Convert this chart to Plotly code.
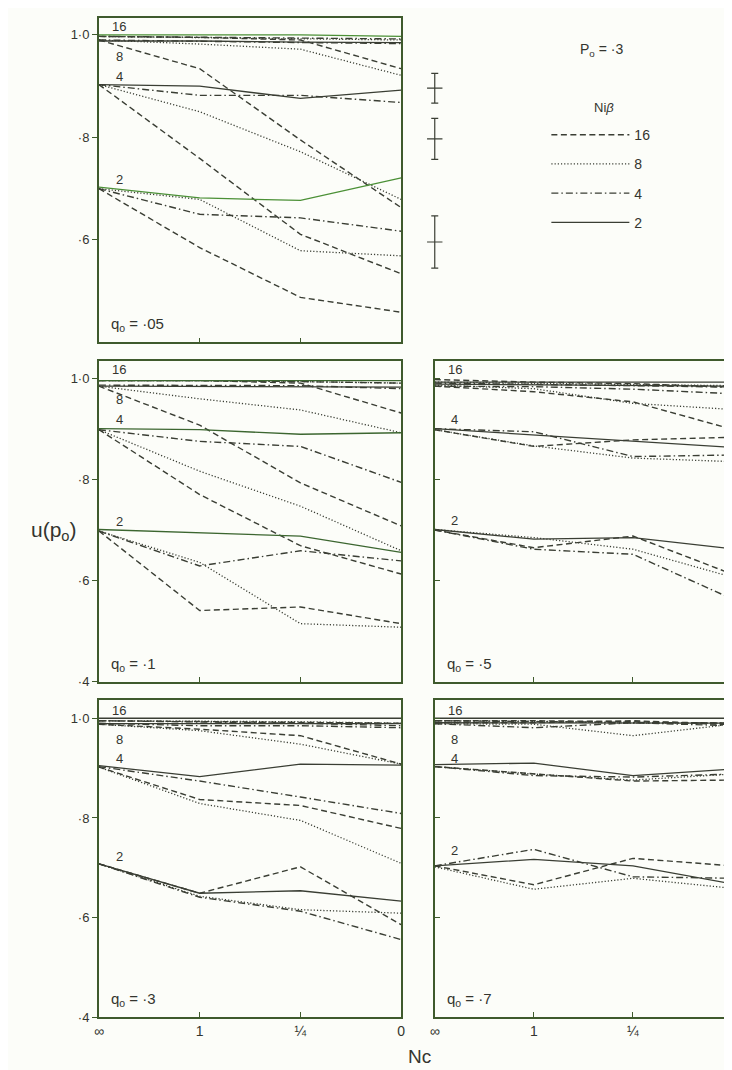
import plotly.graph_objects as go

# ---------------- data ----------------
nc_labels = ["∞", "1", "¼", "0"]          # Nc categories
nc_pos = [0, 1, 2, 3]
group_labels = ["16", "8", "4", "2"]      # curve-group labels written in each panel
style_names = ["16", "8", "4", "2"]       # Niβ legend (line styles)

# each list: values for groups 16, 8, 4, 2 at Nc = ∞, 1, 1/4, 0
# panel q0 = .05
q05_dash = [[0.997, 0.995, 0.990, 0.934], [0.990, 0.934, 0.795, 0.663],
            [0.903, 0.759, 0.611, 0.534], [0.700, 0.585, 0.488, 0.459]]
q05_dot = [[0.997, 0.995, 0.993, 0.990], [0.990, 0.982, 0.972, 0.921],
           [0.903, 0.850, 0.772, 0.679], [0.700, 0.679, 0.579, 0.569]]
q05_dashdot = [[0.997, 0.995, 0.993, 0.992], [0.990, 0.987, 0.985, 0.983],
               [0.903, 0.882, 0.882, 0.868], [0.700, 0.650, 0.643, 0.617]]
q05_solid = [[1.000, 1.000, 1.000, 0.997], [0.988, 0.988, 0.986, 0.985],
             [0.903, 0.900, 0.876, 0.892], [0.703, 0.682, 0.677, 0.721]]

# panel q0 = .1
q1_dash = [[0.995, 0.995, 0.990, 0.931], [0.984, 0.907, 0.793, 0.708],
           [0.898, 0.770, 0.669, 0.613], [0.698, 0.541, 0.548, 0.515]]
q1_dot = [[0.995, 0.995, 0.993, 0.990], [0.984, 0.959, 0.937, 0.892],
          [0.898, 0.816, 0.747, 0.659], [0.698, 0.636, 0.515, 0.508]]
q1_dashdot = [[0.995, 0.995, 0.993, 0.990], [0.986, 0.986, 0.985, 0.979],
              [0.898, 0.875, 0.865, 0.794], [0.698, 0.629, 0.659, 0.639]]
q1_solid = [[0.995, 0.995, 0.995, 0.995], [0.984, 0.983, 0.982, 0.982],
            [0.900, 0.898, 0.889, 0.892], [0.701, 0.695, 0.688, 0.656]]

# panel q0 = .5
q5_dash = [[0.997, 0.992, 0.989, 0.982], [0.984, 0.973, 0.953, 0.899],
           [0.898, 0.865, 0.878, 0.883], [0.700, 0.665, 0.688, 0.613]]
q5_dot = [[0.992, 0.990, 0.988, 0.985], [0.986, 0.979, 0.950, 0.938],
          [0.898, 0.866, 0.842, 0.835], [0.701, 0.685, 0.662, 0.607]]
q5_dashdot = [[0.990, 0.988, 0.985, 0.982], [0.984, 0.983, 0.978, 0.969],
              [0.900, 0.894, 0.845, 0.848], [0.700, 0.662, 0.652, 0.564]]
q5_solid = [[0.992, 0.992, 0.992, 0.992], [0.988, 0.987, 0.985, 0.984],
            [0.900, 0.888, 0.875, 0.863], [0.701, 0.682, 0.685, 0.663]]

# panel q0 = .3
q3_dash = [[0.995, 0.993, 0.992, 0.990], [0.988, 0.978, 0.965, 0.908],
           [0.902, 0.837, 0.825, 0.779], [0.708, 0.649, 0.702, 0.586]]
q3_dot = [[0.995, 0.994, 0.993, 0.990], [0.988, 0.975, 0.948, 0.908],
          [0.902, 0.829, 0.795, 0.709], [0.708, 0.643, 0.616, 0.609]]
q3_dashdot = [[0.995, 0.993, 0.990, 0.985], [0.990, 0.985, 0.985, 0.981],
              [0.903, 0.874, 0.842, 0.809], [0.708, 0.641, 0.613, 0.556]]
q3_solid = [[1.000, 1.000, 1.000, 1.000], [0.989, 0.989, 0.989, 0.989],
            [0.905, 0.883, 0.908, 0.906], [0.708, 0.649, 0.654, 0.633]]

# panel q0 = .7
q7_dash = [[0.995, 0.995, 0.993, 0.990], [0.991, 0.991, 0.995, 0.987],
           [0.903, 0.888, 0.874, 0.876], [0.704, 0.666, 0.719, 0.704]]
q7_dot = [[0.995, 0.994, 0.990, 0.990], [0.989, 0.988, 0.965, 0.988],
          [0.903, 0.888, 0.876, 0.888], [0.702, 0.657, 0.679, 0.659]]
q7_dashdot = [[0.995, 0.993, 0.992, 0.990], [0.989, 0.981, 0.991, 0.985],
              [0.903, 0.885, 0.882, 0.888], [0.704, 0.737, 0.682, 0.679]]
q7_solid = [[1.000, 1.000, 1.000, 1.000], [0.991, 0.991, 0.990, 0.990],
            [0.907, 0.910, 0.885, 0.898], [0.704, 0.717, 0.704, 0.668]]

# error bars beside the top panel
err_mid = [0.896, 0.797, 0.596]
err_half = [0.029, 0.040, 0.051]

y_ticks = [0.4, 0.6, 0.8, 1.0]
y_ticktext = ["·4", "·6", "·8", "1·0"]

# ---------------- styling ----------------
INK = "#3a3e34"
FRAME = "#3f5a2d"
GREEN = "#4b9036"
DKGREEN = "#3c6630"
TXT = "#34352f"
FONT = "Liberation Sans"
W, H = 732, 1070

dash_styles = ["6px,3.5px", "1.2px,2px", "7px,3px,1.5px,3px", "solid"]
widths = [1.4, 1.3, 1.4, 1.3]

panels = [
    dict(name="·05", data=[q05_dash, q05_dot, q05_dashdot, q05_solid], ax="", solid_colors=[GREEN, INK, INK, GREEN],
         xd=[87 / W, 393 / W], yd=[1 - 337 / H, 1 - 10 / H], yr=[0.4, 1.033], left=True, bottom=False,
         ylabels=[0.6, 0.8, 1.0], lab2=0.718),
    dict(name="·1", data=[q1_dash, q1_dot, q1_dashdot, q1_solid], ax="2", solid_colors=[DKGREEN, INK, DKGREEN, DKGREEN],
         xd=[87 / W, 393 / W], yd=[1 - 679 / H, 1 - 356 / H], yr=[0.4, 1.033], left=True, bottom=False,
         ylabels=y_ticks, lab2=0.716),
    dict(name="·5", data=[q5_dash, q5_dot, q5_dashdot, q5_solid], ax="3", solid_colors=[INK, INK, INK, INK],
         xd=[427 / W, 728 / W], yd=[1 - 679 / H, 1 - 356 / H], yr=[0.4, 1.033], left=False, bottom=False,
         ylabels=[], lab2=0.718),
    dict(name="·3", data=[q3_dash, q3_dot, q3_dashdot, q3_solid], ax="4", solid_colors=[INK, INK, INK, INK],
         xd=[87 / W, 393 / W], yd=[1 - 1017 / H, 1 - 697 / H], yr=[0.4, 1.037], left=True, bottom=True,
         ylabels=y_ticks, lab2=0.722),
    dict(name="·7", data=[q7_dash, q7_dot, q7_dashdot, q7_solid], ax="5", solid_colors=[INK, INK, INK, INK],
         xd=[427 / W, 728 / W], yd=[1 - 1017 / H, 1 - 697 / H], yr=[0.4, 1.037], left=False, bottom=True,
         ylabels=[], lab2=0.735),
]

fig = go.Figure()
layout = {}
annotations = []

for pi, p in enumerate(panels):
    xa = "x" + p["ax"]
    ya = "y" + p["ax"]
    for si, series in enumerate(p["data"]):
        for gi, vals in enumerate(series):
            color = p["solid_colors"][gi] if si == 3 else INK
            show = (pi == 3 and gi == 3)
            fig.add_trace(go.Scatter(
                x=nc_pos, y=vals, mode="lines", xaxis=xa, yaxis=ya,
                line=dict(color=color, width=widths[si], dash=dash_styles[si]),
                name=style_names[si], legendgroup=style_names[si], legendrank=si + 1,
                showlegend=show, hoverinfo="skip"))
    xkey = "xaxis" + p["ax"]
    ykey = "yaxis" + p["ax"]
    layout[xkey] = dict(domain=p["xd"], anchor=ya, range=[0, 3], tickvals=nc_pos,
                        ticktext=nc_labels, showticklabels=p["bottom"], ticks="inside",
                        ticklen=5, tickcolor=FRAME, tickwidth=1.3,
                        showline=True, mirror=True, linecolor=FRAME, linewidth=1.8,
                        showgrid=False, zeroline=False,
                        tickfont=dict(family=FONT, size=14, color=TXT))
    layout[ykey] = dict(domain=p["yd"], anchor=xa, range=p["yr"],
                        tickvals=p["ylabels"] if p["left"] else y_ticks,
                        ticktext=[y_ticktext[y_ticks.index(v)] for v in p["ylabels"]] if p["left"] else None,
                        showticklabels=p["left"], ticks="outside" if p["left"] else "inside",
                        ticklen=5, tickcolor=FRAME, tickwidth=1.3,
                        showline=True, mirror=True, linecolor=FRAME, linewidth=1.8,
                        showgrid=False, zeroline=False,
                        tickfont=dict(family=FONT, size=13, color=TXT))
    # group labels
    lab_y = {"16": 1.016, "8": 0.958, "4": 0.919, "2": p["lab2"]}
    for gl in group_labels:
        if gl == "8" and pi == 2:
            continue
        annotations.append(dict(x=0.2, y=lab_y[gl], xref=xa, yref=ya, text=gl, showarrow=False,
                                xanchor="center", yanchor="middle",
                                font=dict(family=FONT, size=13, color=TXT)))
    annotations.append(dict(x=0.1, y=0.435, xref=xa, yref=ya,
                            text="q<sub>o</sub> = " + p["name"], showarrow=False,
                            xanchor="left", yanchor="middle",
                            font=dict(family=FONT, size=15, color=TXT)))

# error bars
fig.add_trace(go.Scatter(
    x=["e"] * len(err_mid), y=err_mid, mode="markers", xaxis="x6", yaxis="y",
    marker=dict(symbol="line-ew", size=11, line=dict(width=1.2, color=INK), color=INK),
    error_y=dict(type="data", array=err_half, visible=True, color=INK, thickness=1.2, width=3.5),
    showlegend=False, hoverinfo="skip"))
layout["xaxis6"] = dict(domain=[417 / W, 437 / W], anchor="y", visible=False, type="category")

# free texts
annotations += [
    dict(x=596 / W, y=1 - 42 / H, xref="paper", yref="paper", text="P<sub>o</sub> = ·3", showarrow=False,
         xanchor="center", yanchor="middle", font=dict(family=FONT, size=14, color=TXT)),
    dict(x=598 / W, y=1 - 100 / H, xref="paper", yref="paper", text="Ni<i>β</i>", showarrow=False,
         xanchor="center", yanchor="middle", font=dict(family=FONT, size=13, color=TXT)),
    dict(x=42 / W, y=1 - 527 / H, xref="paper", yref="paper", text="u(p<sub>o</sub>)", showarrow=False,
         xanchor="center", yanchor="middle", font=dict(family=FONT, size=21, color=TXT)),
    dict(x=412 / W, y=1 - 1056 / H, xref="paper", yref="paper", text="Nc", showarrow=False,
         xanchor="center", yanchor="middle", font=dict(family=FONT, size=19, color=TXT)),
]

fig.update_layout(
    width=W, height=H, margin=dict(l=0, r=0, t=0, b=0), autosize=False,
    paper_bgcolor="#fcfdf9", plot_bgcolor="#fcfdf9",
    annotations=annotations,
    shapes=[dict(type="line", xref="paper", yref="paper", x0=728 / W, x1=728 / W,
                 y0=1 - 679 / H, y1=1 - 357 / H, line=dict(color="#45c43a", width=1.6))],
    showlegend=True,
    legend=dict(x=540 / W, y=1 - 112 / H, xanchor="left", yanchor="top", bgcolor="rgba(0,0,0,0)",
                font=dict(family=FONT, size=14, color=TXT), itemwidth=78, tracegroupgap=8,
                traceorder="grouped"),
    **layout,
)

fig.write_html("out.html")
